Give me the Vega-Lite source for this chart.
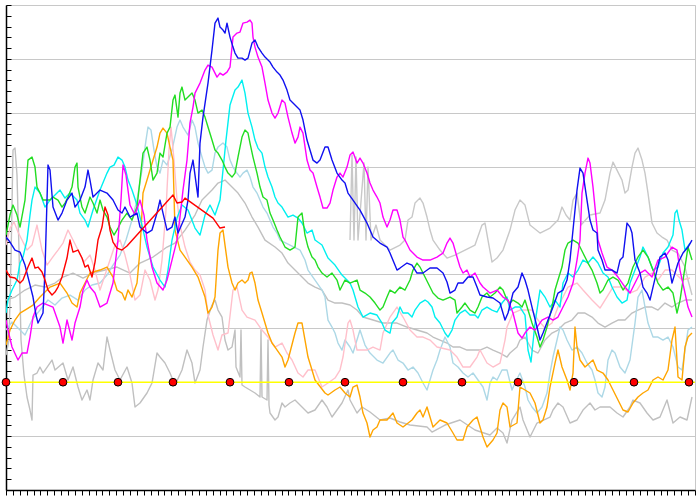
{
"$schema": "https://vega.github.io/schema/vega-lite/v6.json",
"width": 689, "height": 485,
"autosize": {"type": "none"},
"padding": {"left": 6, "top": 5, "right": 5, "bottom": 10},
"background": "white",
"config": {"view": {"stroke": "#c8c8c8", "strokeWidth": 1}},
"datasets": {
"lines": [
{"s":"01 grey","x":0,"y":190},{"s":"01 grey","x":9,"y":193},{"s":"01 grey","x":19,"y":200},{"s":"01 grey","x":29,"y":205},{"s":"01 grey","x":39,"y":203},{"s":"01 grey","x":49,"y":207},{"s":"01 grey","x":57,"y":213},{"s":"01 grey","x":67,"y":217},{"s":"01 grey","x":77,"y":212},{"s":"01 grey","x":87,"y":217},{"s":"01 grey","x":99,"y":220},{"s":"01 grey","x":111,"y":223},{"s":"01 grey","x":124,"y":217},{"s":"01 grey","x":134,"y":227},{"s":"01 grey","x":147,"y":233},{"s":"01 grey","x":161,"y":243},{"s":"01 grey","x":169,"y":247},{"s":"01 grey","x":179,"y":260},{"s":"01 grey","x":189,"y":275},{"s":"01 grey","x":196,"y":290},{"s":"01 grey","x":199,"y":293},{"s":"01 grey","x":206,"y":300},{"s":"01 grey","x":212,"y":307},{"s":"01 grey","x":219,"y":310},{"s":"01 grey","x":226,"y":303},{"s":"01 grey","x":232,"y":297},{"s":"01 grey","x":239,"y":287},{"s":"01 grey","x":246,"y":273},{"s":"01 grey","x":252,"y":263},{"s":"01 grey","x":259,"y":250},{"s":"01 grey","x":269,"y":243},{"s":"01 grey","x":276,"y":237},{"s":"01 grey","x":282,"y":227},{"s":"01 grey","x":289,"y":220},{"s":"01 grey","x":296,"y":213},{"s":"01 grey","x":302,"y":207},{"s":"01 grey","x":309,"y":203},{"s":"01 grey","x":316,"y":200},{"s":"01 grey","x":322,"y":190},{"s":"01 grey","x":329,"y":187},{"s":"01 grey","x":336,"y":187},{"s":"01 grey","x":344,"y":185},{"s":"01 grey","x":351,"y":180},{"s":"01 grey","x":357,"y":173},{"s":"01 grey","x":377,"y":167},{"s":"01 grey","x":391,"y":167},{"s":"01 grey","x":401,"y":163},{"s":"01 grey","x":411,"y":160},{"s":"01 grey","x":421,"y":157},{"s":"01 grey","x":427,"y":153},{"s":"01 grey","x":434,"y":150},{"s":"01 grey","x":441,"y":147},{"s":"01 grey","x":447,"y":143},{"s":"01 grey","x":454,"y":143},{"s":"01 grey","x":461,"y":140},{"s":"01 grey","x":467,"y":140},{"s":"01 grey","x":474,"y":140},{"s":"01 grey","x":481,"y":143},{"s":"01 grey","x":487,"y":140},{"s":"01 grey","x":494,"y":137},{"s":"01 grey","x":501,"y":133},{"s":"01 grey","x":504,"y":137},{"s":"01 grey","x":511,"y":143},{"s":"01 grey","x":514,"y":150},{"s":"01 grey","x":519,"y":153},{"s":"01 grey","x":526,"y":140},{"s":"01 grey","x":532,"y":137},{"s":"01 grey","x":539,"y":150},{"s":"01 grey","x":546,"y":157},{"s":"01 grey","x":552,"y":160},{"s":"01 grey","x":559,"y":167},{"s":"01 grey","x":566,"y":170},{"s":"01 grey","x":572,"y":177},{"s":"01 grey","x":579,"y":177},{"s":"01 grey","x":586,"y":173},{"s":"01 grey","x":592,"y":167},{"s":"01 grey","x":599,"y":163},{"s":"01 grey","x":606,"y":167},{"s":"01 grey","x":612,"y":170},{"s":"01 grey","x":619,"y":170},{"s":"01 grey","x":626,"y":177},{"s":"01 grey","x":632,"y":180},{"s":"01 grey","x":639,"y":183},{"s":"01 grey","x":646,"y":183},{"s":"01 grey","x":652,"y":180},{"s":"01 grey","x":659,"y":187},{"s":"01 grey","x":666,"y":183},{"s":"01 grey","x":672,"y":187},{"s":"01 grey","x":679,"y":190},{"s":"01 grey","x":686,"y":190},
{"s":"02 grey","x":0,"y":135},{"s":"02 grey","x":3,"y":150},{"s":"02 grey","x":5,"y":230},{"s":"02 grey","x":7,"y":340},{"s":"02 grey","x":9,"y":342},{"s":"02 grey","x":11,"y":315},{"s":"02 grey","x":13,"y":240},{"s":"02 grey","x":15,"y":150},{"s":"02 grey","x":18,"y":115},{"s":"02 grey","x":21,"y":93},{"s":"02 grey","x":24,"y":80},{"s":"02 grey","x":26,"y":70},{"s":"02 grey","x":27,"y":115},{"s":"02 grey","x":31,"y":117},{"s":"02 grey","x":34,"y":123},{"s":"02 grey","x":37,"y":117},{"s":"02 grey","x":46,"y":130},{"s":"02 grey","x":49,"y":120},{"s":"02 grey","x":57,"y":127},{"s":"02 grey","x":62,"y":110},{"s":"02 grey","x":67,"y":123},{"s":"02 grey","x":72,"y":103},{"s":"02 grey","x":76,"y":90},{"s":"02 grey","x":81,"y":100},{"s":"02 grey","x":84,"y":90},{"s":"02 grey","x":87,"y":110},{"s":"02 grey","x":92,"y":127},{"s":"02 grey","x":97,"y":120},{"s":"02 grey","x":101,"y":153},{"s":"02 grey","x":104,"y":140},{"s":"02 grey","x":109,"y":120},{"s":"02 grey","x":114,"y":110},{"s":"02 grey","x":121,"y":123},{"s":"02 grey","x":126,"y":107},{"s":"02 grey","x":129,"y":83},{"s":"02 grey","x":134,"y":87},{"s":"02 grey","x":141,"y":97},{"s":"02 grey","x":146,"y":107},{"s":"02 grey","x":151,"y":137},{"s":"02 grey","x":154,"y":133},{"s":"02 grey","x":159,"y":127},{"s":"02 grey","x":164,"y":117},{"s":"02 grey","x":169,"y":105},{"s":"02 grey","x":176,"y":120},{"s":"02 grey","x":181,"y":140},{"s":"02 grey","x":186,"y":127},{"s":"02 grey","x":189,"y":107},{"s":"02 grey","x":194,"y":120},{"s":"02 grey","x":197,"y":143},{"s":"02 grey","x":201,"y":170},{"s":"02 grey","x":206,"y":185},{"s":"02 grey","x":209,"y":190},{"s":"02 grey","x":212,"y":180},{"s":"02 grey","x":216,"y":173},{"s":"02 grey","x":219,"y":150},{"s":"02 grey","x":222,"y":140},{"s":"02 grey","x":226,"y":143},{"s":"02 grey","x":229,"y":160},{"s":"02 grey","x":230,"y":123},{"s":"02 grey","x":234,"y":113},{"s":"02 grey","x":235,"y":160},{"s":"02 grey","x":236,"y":105},{"s":"02 grey","x":239,"y":103},{"s":"02 grey","x":244,"y":100},{"s":"02 grey","x":249,"y":97},{"s":"02 grey","x":254,"y":93},{"s":"02 grey","x":255,"y":160},{"s":"02 grey","x":256,"y":93},{"s":"02 grey","x":261,"y":90},{"s":"02 grey","x":262,"y":150},{"s":"02 grey","x":263,"y":85},{"s":"02 grey","x":264,"y":77},{"s":"02 grey","x":269,"y":70},{"s":"02 grey","x":272,"y":73},{"s":"02 grey","x":276,"y":87},{"s":"02 grey","x":279,"y":83},{"s":"02 grey","x":284,"y":87},{"s":"02 grey","x":289,"y":90},{"s":"02 grey","x":296,"y":83},{"s":"02 grey","x":302,"y":77},{"s":"02 grey","x":309,"y":80},{"s":"02 grey","x":316,"y":90},{"s":"02 grey","x":321,"y":83},{"s":"02 grey","x":326,"y":73},{"s":"02 grey","x":331,"y":80},{"s":"02 grey","x":336,"y":87},{"s":"02 grey","x":342,"y":100},{"s":"02 grey","x":344,"y":90},{"s":"02 grey","x":351,"y":77},{"s":"02 grey","x":356,"y":83},{"s":"02 grey","x":364,"y":78},{"s":"02 grey","x":374,"y":70},{"s":"02 grey","x":384,"y":72},{"s":"02 grey","x":394,"y":68},{"s":"02 grey","x":404,"y":65},{"s":"02 grey","x":421,"y":63},{"s":"02 grey","x":426,"y":58},{"s":"02 grey","x":439,"y":65},{"s":"02 grey","x":454,"y":70},{"s":"02 grey","x":469,"y":60},{"s":"02 grey","x":484,"y":55},{"s":"02 grey","x":491,"y":62},{"s":"02 grey","x":497,"y":57},{"s":"02 grey","x":501,"y":47},{"s":"02 grey","x":506,"y":70},{"s":"02 grey","x":514,"y":83},{"s":"02 grey","x":517,"y":70},{"s":"02 grey","x":524,"y":53},{"s":"02 grey","x":531,"y":67},{"s":"02 grey","x":544,"y":73},{"s":"02 grey","x":547,"y":80},{"s":"02 grey","x":552,"y":87},{"s":"02 grey","x":557,"y":83},{"s":"02 grey","x":564,"y":67},{"s":"02 grey","x":571,"y":70},{"s":"02 grey","x":577,"y":80},{"s":"02 grey","x":584,"y":87},{"s":"02 grey","x":589,"y":80},{"s":"02 grey","x":594,"y":83},{"s":"02 grey","x":604,"y":83},{"s":"02 grey","x":611,"y":77},{"s":"02 grey","x":617,"y":73},{"s":"02 grey","x":624,"y":83},{"s":"02 grey","x":627,"y":90},{"s":"02 grey","x":634,"y":87},{"s":"02 grey","x":641,"y":77},{"s":"02 grey","x":647,"y":70},{"s":"02 grey","x":654,"y":73},{"s":"02 grey","x":661,"y":90},{"s":"02 grey","x":667,"y":67},{"s":"02 grey","x":674,"y":73},{"s":"02 grey","x":681,"y":70},{"s":"02 grey","x":686,"y":93},
{"s":"03 grey","x":344,"y":250},{"s":"03 grey","x":346,"y":335},{"s":"03 grey","x":348,"y":250},{"s":"03 grey","x":350,"y":333},{"s":"03 grey","x":352,"y":250},{"s":"03 grey","x":358,"y":327},{"s":"03 grey","x":360,"y":250},{"s":"03 grey","x":362,"y":323},{"s":"03 grey","x":365,"y":250},{"s":"03 grey","x":370,"y":265},{"s":"03 grey","x":374,"y":250},{"s":"03 grey","x":384,"y":240},{"s":"03 grey","x":394,"y":245},{"s":"03 grey","x":399,"y":250},{"s":"03 grey","x":402,"y":270},{"s":"03 grey","x":406,"y":273},{"s":"03 grey","x":409,"y":287},{"s":"03 grey","x":414,"y":292},{"s":"03 grey","x":417,"y":287},{"s":"03 grey","x":421,"y":273},{"s":"03 grey","x":424,"y":260},{"s":"03 grey","x":427,"y":250},{"s":"03 grey","x":434,"y":240},{"s":"03 grey","x":441,"y":232},{"s":"03 grey","x":449,"y":235},{"s":"03 grey","x":459,"y":240},{"s":"03 grey","x":469,"y":245},{"s":"03 grey","x":476,"y":265},{"s":"03 grey","x":479,"y":267},{"s":"03 grey","x":482,"y":250},{"s":"03 grey","x":486,"y":228},{"s":"03 grey","x":491,"y":232},{"s":"03 grey","x":497,"y":240},{"s":"03 grey","x":504,"y":260},{"s":"03 grey","x":509,"y":280},{"s":"03 grey","x":514,"y":290},{"s":"03 grey","x":519,"y":285},{"s":"03 grey","x":524,"y":265},{"s":"03 grey","x":534,"y":257},{"s":"03 grey","x":544,"y":262},{"s":"03 grey","x":552,"y":270},{"s":"03 grey","x":556,"y":283},{"s":"03 grey","x":560,"y":275},{"s":"03 grey","x":564,"y":270},{"s":"03 grey","x":567,"y":290},{"s":"03 grey","x":571,"y":297},{"s":"03 grey","x":575,"y":265},{"s":"03 grey","x":584,"y":275},{"s":"03 grey","x":594,"y":277},{"s":"03 grey","x":599,"y":290},{"s":"03 grey","x":604,"y":317},{"s":"03 grey","x":607,"y":328},{"s":"03 grey","x":611,"y":320},{"s":"03 grey","x":616,"y":310},{"s":"03 grey","x":619,"y":297},{"s":"03 grey","x":622,"y":300},{"s":"03 grey","x":626,"y":323},{"s":"03 grey","x":629,"y":337},{"s":"03 grey","x":632,"y":342},{"s":"03 grey","x":636,"y":330},{"s":"03 grey","x":639,"y":317},{"s":"03 grey","x":642,"y":297},{"s":"03 grey","x":646,"y":267},{"s":"03 grey","x":651,"y":257},{"s":"03 grey","x":656,"y":253},{"s":"03 grey","x":661,"y":250},{"s":"03 grey","x":666,"y":240},{"s":"03 grey","x":672,"y":237},{"s":"03 grey","x":679,"y":223},{"s":"03 grey","x":682,"y":210},{"s":"03 grey","x":686,"y":195},
{"s":"04 lightblue","x":0,"y":160},{"s":"04 lightblue","x":6,"y":168},{"s":"04 lightblue","x":12,"y":162},{"s":"04 lightblue","x":19,"y":155},{"s":"04 lightblue","x":26,"y":170},{"s":"04 lightblue","x":34,"y":180},{"s":"04 lightblue","x":42,"y":190},{"s":"04 lightblue","x":49,"y":185},{"s":"04 lightblue","x":56,"y":192},{"s":"04 lightblue","x":64,"y":195},{"s":"04 lightblue","x":72,"y":190},{"s":"04 lightblue","x":79,"y":200},{"s":"04 lightblue","x":86,"y":205},{"s":"04 lightblue","x":94,"y":207},{"s":"04 lightblue","x":101,"y":215},{"s":"04 lightblue","x":107,"y":225},{"s":"04 lightblue","x":114,"y":235},{"s":"04 lightblue","x":120,"y":250},{"s":"04 lightblue","x":126,"y":270},{"s":"04 lightblue","x":131,"y":290},{"s":"04 lightblue","x":136,"y":320},{"s":"04 lightblue","x":140,"y":350},{"s":"04 lightblue","x":142,"y":363},{"s":"04 lightblue","x":145,"y":360},{"s":"04 lightblue","x":148,"y":340},{"s":"04 lightblue","x":151,"y":323},{"s":"04 lightblue","x":154,"y":317},{"s":"04 lightblue","x":157,"y":330},{"s":"04 lightblue","x":161,"y":325},{"s":"04 lightblue","x":166,"y":340},{"s":"04 lightblue","x":171,"y":363},{"s":"04 lightblue","x":174,"y":370},{"s":"04 lightblue","x":177,"y":363},{"s":"04 lightblue","x":182,"y":355},{"s":"04 lightblue","x":186,"y":370},{"s":"04 lightblue","x":189,"y":363},{"s":"04 lightblue","x":192,"y":347},{"s":"04 lightblue","x":196,"y":333},{"s":"04 lightblue","x":199,"y":323},{"s":"04 lightblue","x":202,"y":317},{"s":"04 lightblue","x":206,"y":320},{"s":"04 lightblue","x":209,"y":337},{"s":"04 lightblue","x":212,"y":343},{"s":"04 lightblue","x":217,"y":347},{"s":"04 lightblue","x":221,"y":343},{"s":"04 lightblue","x":224,"y":330},{"s":"04 lightblue","x":227,"y":323},{"s":"04 lightblue","x":231,"y":317},{"s":"04 lightblue","x":234,"y":313},{"s":"04 lightblue","x":237,"y":317},{"s":"04 lightblue","x":241,"y":320},{"s":"04 lightblue","x":244,"y":313},{"s":"04 lightblue","x":247,"y":303},{"s":"04 lightblue","x":251,"y":297},{"s":"04 lightblue","x":254,"y":290},{"s":"04 lightblue","x":257,"y":283},{"s":"04 lightblue","x":261,"y":277},{"s":"04 lightblue","x":264,"y":270},{"s":"04 lightblue","x":267,"y":263},{"s":"04 lightblue","x":271,"y":257},{"s":"04 lightblue","x":274,"y":250},{"s":"04 lightblue","x":284,"y":245},{"s":"04 lightblue","x":294,"y":240},{"s":"04 lightblue","x":299,"y":230},{"s":"04 lightblue","x":302,"y":220},{"s":"04 lightblue","x":309,"y":210},{"s":"04 lightblue","x":316,"y":200},{"s":"04 lightblue","x":319,"y":193},{"s":"04 lightblue","x":322,"y":170},{"s":"04 lightblue","x":326,"y":163},{"s":"04 lightblue","x":329,"y":157},{"s":"04 lightblue","x":332,"y":147},{"s":"04 lightblue","x":336,"y":140},{"s":"04 lightblue","x":339,"y":150},{"s":"04 lightblue","x":344,"y":143},{"s":"04 lightblue","x":347,"y":137},{"s":"04 lightblue","x":354,"y":160},{"s":"04 lightblue","x":359,"y":145},{"s":"04 lightblue","x":364,"y":137},{"s":"04 lightblue","x":371,"y":130},{"s":"04 lightblue","x":377,"y":127},{"s":"04 lightblue","x":384,"y":137},{"s":"04 lightblue","x":387,"y":140},{"s":"04 lightblue","x":392,"y":130},{"s":"04 lightblue","x":397,"y":127},{"s":"04 lightblue","x":402,"y":120},{"s":"04 lightblue","x":407,"y":123},{"s":"04 lightblue","x":412,"y":117},{"s":"04 lightblue","x":417,"y":107},{"s":"04 lightblue","x":421,"y":100},{"s":"04 lightblue","x":424,"y":110},{"s":"04 lightblue","x":427,"y":120},{"s":"04 lightblue","x":431,"y":130},{"s":"04 lightblue","x":434,"y":140},{"s":"04 lightblue","x":439,"y":153},{"s":"04 lightblue","x":444,"y":143},{"s":"04 lightblue","x":447,"y":127},{"s":"04 lightblue","x":452,"y":123},{"s":"04 lightblue","x":457,"y":117},{"s":"04 lightblue","x":462,"y":113},{"s":"04 lightblue","x":467,"y":117},{"s":"04 lightblue","x":472,"y":110},{"s":"04 lightblue","x":477,"y":103},{"s":"04 lightblue","x":481,"y":90},{"s":"04 lightblue","x":484,"y":107},{"s":"04 lightblue","x":487,"y":113},{"s":"04 lightblue","x":491,"y":110},{"s":"04 lightblue","x":496,"y":120},{"s":"04 lightblue","x":501,"y":120},{"s":"04 lightblue","x":506,"y":100},{"s":"04 lightblue","x":509,"y":107},{"s":"04 lightblue","x":514,"y":117},{"s":"04 lightblue","x":519,"y":103},{"s":"04 lightblue","x":522,"y":90},{"s":"04 lightblue","x":526,"y":83},{"s":"04 lightblue","x":531,"y":77},{"s":"04 lightblue","x":536,"y":83},{"s":"04 lightblue","x":541,"y":97},{"s":"04 lightblue","x":544,"y":117},{"s":"04 lightblue","x":547,"y":133},{"s":"04 lightblue","x":551,"y":150},{"s":"04 lightblue","x":554,"y":163},{"s":"04 lightblue","x":557,"y":160},{"s":"04 lightblue","x":561,"y":150},{"s":"04 lightblue","x":566,"y":140},{"s":"04 lightblue","x":571,"y":143},{"s":"04 lightblue","x":576,"y":137},{"s":"04 lightblue","x":581,"y":127},{"s":"04 lightblue","x":586,"y":120},{"s":"04 lightblue","x":589,"y":110},{"s":"04 lightblue","x":592,"y":97},{"s":"04 lightblue","x":596,"y":93},{"s":"04 lightblue","x":599,"y":103},{"s":"04 lightblue","x":602,"y":130},{"s":"04 lightblue","x":606,"y":140},{"s":"04 lightblue","x":609,"y":137},{"s":"04 lightblue","x":614,"y":123},{"s":"04 lightblue","x":619,"y":117},{"s":"04 lightblue","x":624,"y":130},{"s":"04 lightblue","x":629,"y":167},{"s":"04 lightblue","x":632,"y":193},{"s":"04 lightblue","x":636,"y":200},{"s":"04 lightblue","x":639,"y":183},{"s":"04 lightblue","x":642,"y":167},{"s":"04 lightblue","x":647,"y":153},{"s":"04 lightblue","x":652,"y":153},{"s":"04 lightblue","x":657,"y":150},{"s":"04 lightblue","x":662,"y":153},{"s":"04 lightblue","x":667,"y":143},{"s":"04 lightblue","x":672,"y":123},{"s":"04 lightblue","x":676,"y":120},{"s":"04 lightblue","x":679,"y":140},{"s":"04 lightblue","x":682,"y":160},{"s":"04 lightblue","x":686,"y":163},
{"s":"05 pink","x":0,"y":245},{"s":"05 pink","x":4,"y":262},{"s":"05 pink","x":8,"y":268},{"s":"05 pink","x":12,"y":258},{"s":"05 pink","x":16,"y":250},{"s":"05 pink","x":21,"y":240},{"s":"05 pink","x":26,"y":245},{"s":"05 pink","x":31,"y":265},{"s":"05 pink","x":36,"y":240},{"s":"05 pink","x":41,"y":225},{"s":"05 pink","x":46,"y":232},{"s":"05 pink","x":52,"y":240},{"s":"05 pink","x":57,"y":247},{"s":"05 pink","x":62,"y":260},{"s":"05 pink","x":67,"y":250},{"s":"05 pink","x":72,"y":240},{"s":"05 pink","x":78,"y":228},{"s":"05 pink","x":84,"y":235},{"s":"05 pink","x":89,"y":220},{"s":"05 pink","x":94,"y":200},{"s":"05 pink","x":99,"y":215},{"s":"05 pink","x":104,"y":230},{"s":"05 pink","x":109,"y":245},{"s":"05 pink","x":114,"y":250},{"s":"05 pink","x":119,"y":235},{"s":"05 pink","x":124,"y":215},{"s":"05 pink","x":129,"y":190},{"s":"05 pink","x":134,"y":195},{"s":"05 pink","x":139,"y":220},{"s":"05 pink","x":144,"y":210},{"s":"05 pink","x":149,"y":190},{"s":"05 pink","x":152,"y":200},{"s":"05 pink","x":156,"y":230},{"s":"05 pink","x":160,"y":280},{"s":"05 pink","x":163,"y":340},{"s":"05 pink","x":165,"y":363},{"s":"05 pink","x":168,"y":330},{"s":"05 pink","x":171,"y":290},{"s":"05 pink","x":174,"y":265},{"s":"05 pink","x":179,"y":243},{"s":"05 pink","x":184,"y":228},{"s":"05 pink","x":189,"y":220},{"s":"05 pink","x":194,"y":215},{"s":"05 pink","x":199,"y":200},{"s":"05 pink","x":202,"y":175},{"s":"05 pink","x":207,"y":155},{"s":"05 pink","x":212,"y":140},{"s":"05 pink","x":216,"y":155},{"s":"05 pink","x":222,"y":157},{"s":"05 pink","x":227,"y":200},{"s":"05 pink","x":231,"y":203},{"s":"05 pink","x":236,"y":180},{"s":"05 pink","x":241,"y":173},{"s":"05 pink","x":249,"y":170},{"s":"05 pink","x":256,"y":160},{"s":"05 pink","x":262,"y":153},{"s":"05 pink","x":269,"y":143},{"s":"05 pink","x":276,"y":147},{"s":"05 pink","x":281,"y":137},{"s":"05 pink","x":286,"y":130},{"s":"05 pink","x":292,"y":117},{"s":"05 pink","x":297,"y":113},{"s":"05 pink","x":302,"y":120},{"s":"05 pink","x":309,"y":120},{"s":"05 pink","x":316,"y":103},{"s":"05 pink","x":322,"y":107},{"s":"05 pink","x":329,"y":112},{"s":"05 pink","x":334,"y":120},{"s":"05 pink","x":337,"y":133},{"s":"05 pink","x":342,"y":167},{"s":"05 pink","x":344,"y":170},{"s":"05 pink","x":347,"y":160},{"s":"05 pink","x":351,"y":140},{"s":"05 pink","x":361,"y":140},{"s":"05 pink","x":367,"y":143},{"s":"05 pink","x":374,"y":140},{"s":"05 pink","x":377,"y":157},{"s":"05 pink","x":384,"y":173},{"s":"05 pink","x":391,"y":183},{"s":"05 pink","x":397,"y":173},{"s":"05 pink","x":404,"y":160},{"s":"05 pink","x":411,"y":153},{"s":"05 pink","x":417,"y":153},{"s":"05 pink","x":424,"y":150},{"s":"05 pink","x":431,"y":143},{"s":"05 pink","x":444,"y":140},{"s":"05 pink","x":451,"y":133},{"s":"05 pink","x":457,"y":123},{"s":"05 pink","x":464,"y":123},{"s":"05 pink","x":471,"y":133},{"s":"05 pink","x":474,"y":140},{"s":"05 pink","x":481,"y":127},{"s":"05 pink","x":487,"y":123},{"s":"05 pink","x":494,"y":127},{"s":"05 pink","x":499,"y":150},{"s":"05 pink","x":501,"y":163},{"s":"05 pink","x":507,"y":177},{"s":"05 pink","x":514,"y":180},{"s":"05 pink","x":519,"y":180},{"s":"05 pink","x":526,"y":180},{"s":"05 pink","x":532,"y":170},{"s":"05 pink","x":539,"y":162},{"s":"05 pink","x":546,"y":167},{"s":"05 pink","x":552,"y":183},{"s":"05 pink","x":562,"y":203},{"s":"05 pink","x":571,"y":207},{"s":"05 pink","x":577,"y":200},{"s":"05 pink","x":586,"y":190},{"s":"05 pink","x":594,"y":182},{"s":"05 pink","x":599,"y":190},{"s":"05 pink","x":607,"y":203},{"s":"05 pink","x":616,"y":203},{"s":"05 pink","x":624,"y":197},{"s":"05 pink","x":631,"y":200},{"s":"05 pink","x":639,"y":213},{"s":"05 pink","x":646,"y":217},{"s":"05 pink","x":652,"y":210},{"s":"05 pink","x":659,"y":220},{"s":"05 pink","x":666,"y":220},{"s":"05 pink","x":676,"y":210},{"s":"05 pink","x":684,"y":212},
{"s":"06 orange","x":0,"y":145},{"s":"06 orange","x":4,"y":160},{"s":"06 orange","x":9,"y":170},{"s":"06 orange","x":14,"y":177},{"s":"06 orange","x":19,"y":180},{"s":"06 orange","x":27,"y":185},{"s":"06 orange","x":34,"y":193},{"s":"06 orange","x":44,"y":203},{"s":"06 orange","x":54,"y":207},{"s":"06 orange","x":61,"y":197},{"s":"06 orange","x":66,"y":187},{"s":"06 orange","x":71,"y":183},{"s":"06 orange","x":74,"y":197},{"s":"06 orange","x":79,"y":207},{"s":"06 orange","x":84,"y":217},{"s":"06 orange","x":94,"y":220},{"s":"06 orange","x":101,"y":223},{"s":"06 orange","x":107,"y":213},{"s":"06 orange","x":111,"y":200},{"s":"06 orange","x":116,"y":197},{"s":"06 orange","x":119,"y":190},{"s":"06 orange","x":122,"y":200},{"s":"06 orange","x":126,"y":193},{"s":"06 orange","x":131,"y":207},{"s":"06 orange","x":134,"y":240},{"s":"06 orange","x":137,"y":297},{"s":"06 orange","x":141,"y":310},{"s":"06 orange","x":144,"y":320},{"s":"06 orange","x":151,"y":343},{"s":"06 orange","x":154,"y":357},{"s":"06 orange","x":157,"y":362},{"s":"06 orange","x":161,"y":357},{"s":"06 orange","x":164,"y":343},{"s":"06 orange","x":167,"y":330},{"s":"06 orange","x":169,"y":260},{"s":"06 orange","x":174,"y":240},{"s":"06 orange","x":179,"y":233},{"s":"06 orange","x":186,"y":223},{"s":"06 orange","x":192,"y":213},{"s":"06 orange","x":199,"y":193},{"s":"06 orange","x":202,"y":177},{"s":"06 orange","x":206,"y":183},{"s":"06 orange","x":209,"y":193},{"s":"06 orange","x":212,"y":240},{"s":"06 orange","x":214,"y":257},{"s":"06 orange","x":217,"y":260},{"s":"06 orange","x":219,"y":245},{"s":"06 orange","x":222,"y":223},{"s":"06 orange","x":226,"y":207},{"s":"06 orange","x":229,"y":200},{"s":"06 orange","x":232,"y":207},{"s":"06 orange","x":236,"y":210},{"s":"06 orange","x":239,"y":207},{"s":"06 orange","x":242,"y":210},{"s":"06 orange","x":244,"y":217},{"s":"06 orange","x":246,"y":218},{"s":"06 orange","x":249,"y":207},{"s":"06 orange","x":252,"y":190},{"s":"06 orange","x":256,"y":177},{"s":"06 orange","x":259,"y":167},{"s":"06 orange","x":262,"y":157},{"s":"06 orange","x":266,"y":147},{"s":"06 orange","x":269,"y":143},{"s":"06 orange","x":276,"y":133},{"s":"06 orange","x":279,"y":123},{"s":"06 orange","x":282,"y":130},{"s":"06 orange","x":289,"y":157},{"s":"06 orange","x":292,"y":167},{"s":"06 orange","x":296,"y":167},{"s":"06 orange","x":299,"y":150},{"s":"06 orange","x":302,"y":133},{"s":"06 orange","x":306,"y":120},{"s":"06 orange","x":309,"y":110},{"s":"06 orange","x":319,"y":97},{"s":"06 orange","x":322,"y":95},{"s":"06 orange","x":329,"y":100},{"s":"06 orange","x":334,"y":103},{"s":"06 orange","x":339,"y":97},{"s":"06 orange","x":344,"y":93},{"s":"06 orange","x":347,"y":103},{"s":"06 orange","x":351,"y":105},{"s":"06 orange","x":354,"y":93},{"s":"06 orange","x":357,"y":77},{"s":"06 orange","x":361,"y":67},{"s":"06 orange","x":364,"y":53},{"s":"06 orange","x":367,"y":60},{"s":"06 orange","x":371,"y":63},{"s":"06 orange","x":374,"y":70},{"s":"06 orange","x":381,"y":70},{"s":"06 orange","x":387,"y":77},{"s":"06 orange","x":391,"y":67},{"s":"06 orange","x":397,"y":63},{"s":"06 orange","x":406,"y":70},{"s":"06 orange","x":411,"y":77},{"s":"06 orange","x":414,"y":80},{"s":"06 orange","x":417,"y":73},{"s":"06 orange","x":421,"y":83},{"s":"06 orange","x":424,"y":73},{"s":"06 orange","x":427,"y":63},{"s":"06 orange","x":434,"y":70},{"s":"06 orange","x":441,"y":67},{"s":"06 orange","x":447,"y":57},{"s":"06 orange","x":451,"y":50},{"s":"06 orange","x":457,"y":50},{"s":"06 orange","x":461,"y":63},{"s":"06 orange","x":467,"y":70},{"s":"06 orange","x":471,"y":73},{"s":"06 orange","x":474,"y":63},{"s":"06 orange","x":477,"y":53},{"s":"06 orange","x":481,"y":43},{"s":"06 orange","x":487,"y":50},{"s":"06 orange","x":491,"y":57},{"s":"06 orange","x":494,"y":80},{"s":"06 orange","x":497,"y":87},{"s":"06 orange","x":501,"y":83},{"s":"06 orange","x":504,"y":63},{"s":"06 orange","x":511,"y":67},{"s":"06 orange","x":514,"y":103},{"s":"06 orange","x":519,"y":100},{"s":"06 orange","x":524,"y":97},{"s":"06 orange","x":529,"y":87},{"s":"06 orange","x":534,"y":67},{"s":"06 orange","x":537,"y":70},{"s":"06 orange","x":541,"y":83},{"s":"06 orange","x":544,"y":103},{"s":"06 orange","x":549,"y":127},{"s":"06 orange","x":552,"y":140},{"s":"06 orange","x":556,"y":123},{"s":"06 orange","x":561,"y":110},{"s":"06 orange","x":564,"y":100},{"s":"06 orange","x":567,"y":117},{"s":"06 orange","x":569,"y":163},{"s":"06 orange","x":571,"y":143},{"s":"06 orange","x":574,"y":130},{"s":"06 orange","x":579,"y":123},{"s":"06 orange","x":587,"y":130},{"s":"06 orange","x":591,"y":120},{"s":"06 orange","x":597,"y":117},{"s":"06 orange","x":602,"y":110},{"s":"06 orange","x":607,"y":100},{"s":"06 orange","x":612,"y":90},{"s":"06 orange","x":617,"y":80},{"s":"06 orange","x":622,"y":78},{"s":"06 orange","x":627,"y":87},{"s":"06 orange","x":632,"y":93},{"s":"06 orange","x":637,"y":97},{"s":"06 orange","x":642,"y":100},{"s":"06 orange","x":647,"y":110},{"s":"06 orange","x":652,"y":113},{"s":"06 orange","x":657,"y":110},{"s":"06 orange","x":662,"y":120},{"s":"06 orange","x":666,"y":150},{"s":"06 orange","x":669,"y":163},{"s":"06 orange","x":672,"y":113},{"s":"06 orange","x":676,"y":110},{"s":"06 orange","x":679,"y":143},{"s":"06 orange","x":682,"y":153},{"s":"06 orange","x":686,"y":157},
{"s":"07 cyan","x":0,"y":177},{"s":"07 cyan","x":2,"y":190},{"s":"07 cyan","x":6,"y":200},{"s":"07 cyan","x":11,"y":210},{"s":"07 cyan","x":14,"y":227},{"s":"07 cyan","x":17,"y":233},{"s":"07 cyan","x":21,"y":250},{"s":"07 cyan","x":24,"y":275},{"s":"07 cyan","x":26,"y":290},{"s":"07 cyan","x":29,"y":303},{"s":"07 cyan","x":34,"y":297},{"s":"07 cyan","x":39,"y":283},{"s":"07 cyan","x":44,"y":290},{"s":"07 cyan","x":49,"y":295},{"s":"07 cyan","x":54,"y":300},{"s":"07 cyan","x":59,"y":292},{"s":"07 cyan","x":64,"y":297},{"s":"07 cyan","x":71,"y":290},{"s":"07 cyan","x":74,"y":277},{"s":"07 cyan","x":79,"y":270},{"s":"07 cyan","x":82,"y":263},{"s":"07 cyan","x":87,"y":280},{"s":"07 cyan","x":94,"y":300},{"s":"07 cyan","x":101,"y":317},{"s":"07 cyan","x":104,"y":323},{"s":"07 cyan","x":108,"y":325},{"s":"07 cyan","x":112,"y":333},{"s":"07 cyan","x":116,"y":330},{"s":"07 cyan","x":119,"y":323},{"s":"07 cyan","x":122,"y":310},{"s":"07 cyan","x":126,"y":300},{"s":"07 cyan","x":131,"y":285},{"s":"07 cyan","x":136,"y":265},{"s":"07 cyan","x":141,"y":243},{"s":"07 cyan","x":147,"y":223},{"s":"07 cyan","x":154,"y":210},{"s":"07 cyan","x":159,"y":203},{"s":"07 cyan","x":162,"y":220},{"s":"07 cyan","x":166,"y":250},{"s":"07 cyan","x":171,"y":272},{"s":"07 cyan","x":176,"y":285},{"s":"07 cyan","x":182,"y":280},{"s":"07 cyan","x":189,"y":262},{"s":"07 cyan","x":194,"y":255},{"s":"07 cyan","x":199,"y":275},{"s":"07 cyan","x":204,"y":285},{"s":"07 cyan","x":209,"y":275},{"s":"07 cyan","x":214,"y":290},{"s":"07 cyan","x":217,"y":320},{"s":"07 cyan","x":220,"y":350},{"s":"07 cyan","x":224,"y":385},{"s":"07 cyan","x":229,"y":400},{"s":"07 cyan","x":232,"y":403},{"s":"07 cyan","x":236,"y":410},{"s":"07 cyan","x":239,"y":397},{"s":"07 cyan","x":242,"y":377},{"s":"07 cyan","x":246,"y":363},{"s":"07 cyan","x":249,"y":350},{"s":"07 cyan","x":252,"y":342},{"s":"07 cyan","x":256,"y":337},{"s":"07 cyan","x":259,"y":323},{"s":"07 cyan","x":262,"y":313},{"s":"07 cyan","x":266,"y":303},{"s":"07 cyan","x":269,"y":293},{"s":"07 cyan","x":272,"y":287},{"s":"07 cyan","x":276,"y":283},{"s":"07 cyan","x":279,"y":278},{"s":"07 cyan","x":282,"y":273},{"s":"07 cyan","x":287,"y":275},{"s":"07 cyan","x":292,"y":272},{"s":"07 cyan","x":296,"y":267},{"s":"07 cyan","x":301,"y":257},{"s":"07 cyan","x":306,"y":260},{"s":"07 cyan","x":309,"y":250},{"s":"07 cyan","x":316,"y":245},{"s":"07 cyan","x":322,"y":232},{"s":"07 cyan","x":329,"y":225},{"s":"07 cyan","x":336,"y":215},{"s":"07 cyan","x":344,"y":207},{"s":"07 cyan","x":347,"y":200},{"s":"07 cyan","x":352,"y":183},{"s":"07 cyan","x":357,"y":173},{"s":"07 cyan","x":364,"y":177},{"s":"07 cyan","x":371,"y":175},{"s":"07 cyan","x":376,"y":167},{"s":"07 cyan","x":379,"y":160},{"s":"07 cyan","x":384,"y":157},{"s":"07 cyan","x":386,"y":167},{"s":"07 cyan","x":391,"y":173},{"s":"07 cyan","x":394,"y":183},{"s":"07 cyan","x":397,"y":177},{"s":"07 cyan","x":402,"y":177},{"s":"07 cyan","x":406,"y":173},{"s":"07 cyan","x":409,"y":180},{"s":"07 cyan","x":414,"y":187},{"s":"07 cyan","x":419,"y":190},{"s":"07 cyan","x":422,"y":188},{"s":"07 cyan","x":426,"y":183},{"s":"07 cyan","x":429,"y":173},{"s":"07 cyan","x":434,"y":167},{"s":"07 cyan","x":439,"y":157},{"s":"07 cyan","x":442,"y":153},{"s":"07 cyan","x":446,"y":160},{"s":"07 cyan","x":449,"y":170},{"s":"07 cyan","x":454,"y":177},{"s":"07 cyan","x":459,"y":180},{"s":"07 cyan","x":464,"y":175},{"s":"07 cyan","x":469,"y":175},{"s":"07 cyan","x":472,"y":172},{"s":"07 cyan","x":476,"y":180},{"s":"07 cyan","x":481,"y":183},{"s":"07 cyan","x":486,"y":180},{"s":"07 cyan","x":491,"y":178},{"s":"07 cyan","x":496,"y":187},{"s":"07 cyan","x":501,"y":193},{"s":"07 cyan","x":504,"y":180},{"s":"07 cyan","x":509,"y":183},{"s":"07 cyan","x":514,"y":183},{"s":"07 cyan","x":519,"y":175},{"s":"07 cyan","x":522,"y":140},{"s":"07 cyan","x":525,"y":128},{"s":"07 cyan","x":529,"y":167},{"s":"07 cyan","x":534,"y":200},{"s":"07 cyan","x":539,"y":193},{"s":"07 cyan","x":544,"y":183},{"s":"07 cyan","x":549,"y":190},{"s":"07 cyan","x":554,"y":183},{"s":"07 cyan","x":557,"y":207},{"s":"07 cyan","x":562,"y":217},{"s":"07 cyan","x":567,"y":213},{"s":"07 cyan","x":572,"y":220},{"s":"07 cyan","x":577,"y":230},{"s":"07 cyan","x":582,"y":227},{"s":"07 cyan","x":587,"y":233},{"s":"07 cyan","x":592,"y":227},{"s":"07 cyan","x":597,"y":217},{"s":"07 cyan","x":602,"y":213},{"s":"07 cyan","x":606,"y":203},{"s":"07 cyan","x":611,"y":193},{"s":"07 cyan","x":616,"y":187},{"s":"07 cyan","x":621,"y":190},{"s":"07 cyan","x":624,"y":207},{"s":"07 cyan","x":629,"y":220},{"s":"07 cyan","x":634,"y":233},{"s":"07 cyan","x":637,"y":243},{"s":"07 cyan","x":642,"y":233},{"s":"07 cyan","x":647,"y":220},{"s":"07 cyan","x":652,"y":223},{"s":"07 cyan","x":657,"y":237},{"s":"07 cyan","x":662,"y":243},{"s":"07 cyan","x":667,"y":255},{"s":"07 cyan","x":669,"y":277},{"s":"07 cyan","x":671,"y":280},{"s":"07 cyan","x":673,"y":270},{"s":"07 cyan","x":676,"y":260},{"s":"07 cyan","x":679,"y":240},{"s":"07 cyan","x":684,"y":247},
{"s":"08 green","x":0,"y":255},{"s":"08 green","x":4,"y":275},{"s":"08 green","x":7,"y":285},{"s":"08 green","x":11,"y":275},{"s":"08 green","x":14,"y":263},{"s":"08 green","x":19,"y":290},{"s":"08 green","x":22,"y":330},{"s":"08 green","x":26,"y":333},{"s":"08 green","x":29,"y":323},{"s":"08 green","x":31,"y":303},{"s":"08 green","x":34,"y":297},{"s":"08 green","x":37,"y":290},{"s":"08 green","x":44,"y":290},{"s":"08 green","x":47,"y":293},{"s":"08 green","x":52,"y":290},{"s":"08 green","x":56,"y":283},{"s":"08 green","x":59,"y":287},{"s":"08 green","x":62,"y":293},{"s":"08 green","x":66,"y":303},{"s":"08 green","x":69,"y":323},{"s":"08 green","x":71,"y":327},{"s":"08 green","x":72,"y":303},{"s":"08 green","x":76,"y":283},{"s":"08 green","x":79,"y":277},{"s":"08 green","x":84,"y":293},{"s":"08 green","x":87,"y":287},{"s":"08 green","x":91,"y":277},{"s":"08 green","x":94,"y":290},{"s":"08 green","x":97,"y":280},{"s":"08 green","x":101,"y":273},{"s":"08 green","x":104,"y":263},{"s":"08 green","x":108,"y":255},{"s":"08 green","x":112,"y":262},{"s":"08 green","x":116,"y":270},{"s":"08 green","x":121,"y":277},{"s":"08 green","x":126,"y":270},{"s":"08 green","x":131,"y":283},{"s":"08 green","x":134,"y":310},{"s":"08 green","x":137,"y":337},{"s":"08 green","x":141,"y":343},{"s":"08 green","x":144,"y":330},{"s":"08 green","x":147,"y":310},{"s":"08 green","x":151,"y":317},{"s":"08 green","x":154,"y":337},{"s":"08 green","x":157,"y":333},{"s":"08 green","x":161,"y":357},{"s":"08 green","x":164,"y":363},{"s":"08 green","x":167,"y":390},{"s":"08 green","x":169,"y":395},{"s":"08 green","x":172,"y":373},{"s":"08 green","x":174,"y":397},{"s":"08 green","x":176,"y":403},{"s":"08 green","x":179,"y":390},{"s":"08 green","x":182,"y":393},{"s":"08 green","x":186,"y":397},{"s":"08 green","x":189,"y":390},{"s":"08 green","x":192,"y":377},{"s":"08 green","x":196,"y":380},{"s":"08 green","x":199,"y":373},{"s":"08 green","x":202,"y":363},{"s":"08 green","x":206,"y":350},{"s":"08 green","x":209,"y":340},{"s":"08 green","x":212,"y":337},{"s":"08 green","x":216,"y":330},{"s":"08 green","x":219,"y":323},{"s":"08 green","x":222,"y":317},{"s":"08 green","x":226,"y":313},{"s":"08 green","x":229,"y":317},{"s":"08 green","x":232,"y":333},{"s":"08 green","x":236,"y":353},{"s":"08 green","x":239,"y":360},{"s":"08 green","x":242,"y":357},{"s":"08 green","x":244,"y":347},{"s":"08 green","x":247,"y":333},{"s":"08 green","x":251,"y":317},{"s":"08 green","x":254,"y":303},{"s":"08 green","x":257,"y":293},{"s":"08 green","x":261,"y":290},{"s":"08 green","x":264,"y":277},{"s":"08 green","x":267,"y":270},{"s":"08 green","x":271,"y":260},{"s":"08 green","x":274,"y":253},{"s":"08 green","x":279,"y":243},{"s":"08 green","x":284,"y":240},{"s":"08 green","x":289,"y":243},{"s":"08 green","x":292,"y":273},{"s":"08 green","x":296,"y":277},{"s":"08 green","x":299,"y":255},{"s":"08 green","x":302,"y":243},{"s":"08 green","x":306,"y":233},{"s":"08 green","x":309,"y":230},{"s":"08 green","x":312,"y":223},{"s":"08 green","x":316,"y":217},{"s":"08 green","x":321,"y":213},{"s":"08 green","x":326,"y":217},{"s":"08 green","x":331,"y":210},{"s":"08 green","x":334,"y":200},{"s":"08 green","x":339,"y":210},{"s":"08 green","x":344,"y":207},{"s":"08 green","x":351,"y":210},{"s":"08 green","x":354,"y":200},{"s":"08 green","x":359,"y":197},{"s":"08 green","x":364,"y":193},{"s":"08 green","x":369,"y":187},{"s":"08 green","x":374,"y":180},{"s":"08 green","x":377,"y":183},{"s":"08 green","x":381,"y":193},{"s":"08 green","x":384,"y":200},{"s":"08 green","x":389,"y":197},{"s":"08 green","x":394,"y":203},{"s":"08 green","x":399,"y":200},{"s":"08 green","x":404,"y":210},{"s":"08 green","x":407,"y":220},{"s":"08 green","x":411,"y":227},{"s":"08 green","x":414,"y":223},{"s":"08 green","x":417,"y":217},{"s":"08 green","x":422,"y":207},{"s":"08 green","x":427,"y":197},{"s":"08 green","x":432,"y":192},{"s":"08 green","x":437,"y":190},{"s":"08 green","x":444,"y":193},{"s":"08 green","x":449,"y":190},{"s":"08 green","x":451,"y":177},{"s":"08 green","x":456,"y":183},{"s":"08 green","x":459,"y":187},{"s":"08 green","x":464,"y":180},{"s":"08 green","x":469,"y":177},{"s":"08 green","x":472,"y":183},{"s":"08 green","x":476,"y":193},{"s":"08 green","x":481,"y":197},{"s":"08 green","x":484,"y":193},{"s":"08 green","x":489,"y":197},{"s":"08 green","x":494,"y":203},{"s":"08 green","x":497,"y":200},{"s":"08 green","x":501,"y":190},{"s":"08 green","x":504,"y":187},{"s":"08 green","x":507,"y":190},{"s":"08 green","x":512,"y":187},{"s":"08 green","x":516,"y":183},{"s":"08 green","x":519,"y":190},{"s":"08 green","x":526,"y":167},{"s":"08 green","x":531,"y":153},{"s":"08 green","x":534,"y":143},{"s":"08 green","x":537,"y":150},{"s":"08 green","x":541,"y":163},{"s":"08 green","x":546,"y":183},{"s":"08 green","x":549,"y":200},{"s":"08 green","x":552,"y":210},{"s":"08 green","x":556,"y":223},{"s":"08 green","x":559,"y":240},{"s":"08 green","x":562,"y":247},{"s":"08 green","x":567,"y":250},{"s":"08 green","x":572,"y":247},{"s":"08 green","x":577,"y":237},{"s":"08 green","x":582,"y":227},{"s":"08 green","x":586,"y":220},{"s":"08 green","x":591,"y":207},{"s":"08 green","x":594,"y":197},{"s":"08 green","x":597,"y":200},{"s":"08 green","x":602,"y":210},{"s":"08 green","x":607,"y":213},{"s":"08 green","x":612,"y":210},{"s":"08 green","x":617,"y":200},{"s":"08 green","x":622,"y":207},{"s":"08 green","x":627,"y":223},{"s":"08 green","x":632,"y":233},{"s":"08 green","x":637,"y":240},{"s":"08 green","x":642,"y":233},{"s":"08 green","x":647,"y":220},{"s":"08 green","x":652,"y":207},{"s":"08 green","x":657,"y":200},{"s":"08 green","x":662,"y":203},{"s":"08 green","x":667,"y":197},{"s":"08 green","x":671,"y":177},{"s":"08 green","x":674,"y":190},{"s":"08 green","x":679,"y":223},{"s":"08 green","x":682,"y":243},{"s":"08 green","x":686,"y":230},
{"s":"09 magenta","x":0,"y":170},{"s":"09 magenta","x":2,"y":160},{"s":"09 magenta","x":6,"y":143},{"s":"09 magenta","x":12,"y":130},{"s":"09 magenta","x":16,"y":137},{"s":"09 magenta","x":21,"y":137},{"s":"09 magenta","x":24,"y":153},{"s":"09 magenta","x":27,"y":173},{"s":"09 magenta","x":31,"y":183},{"s":"09 magenta","x":37,"y":187},{"s":"09 magenta","x":47,"y":183},{"s":"09 magenta","x":54,"y":163},{"s":"09 magenta","x":57,"y":147},{"s":"09 magenta","x":61,"y":170},{"s":"09 magenta","x":66,"y":150},{"s":"09 magenta","x":69,"y":167},{"s":"09 magenta","x":74,"y":183},{"s":"09 magenta","x":77,"y":200},{"s":"09 magenta","x":81,"y":210},{"s":"09 magenta","x":84,"y":203},{"s":"09 magenta","x":89,"y":197},{"s":"09 magenta","x":94,"y":183},{"s":"09 magenta","x":101,"y":187},{"s":"09 magenta","x":107,"y":207},{"s":"09 magenta","x":112,"y":250},{"s":"09 magenta","x":115,"y":290},{"s":"09 magenta","x":117,"y":325},{"s":"09 magenta","x":120,"y":315},{"s":"09 magenta","x":124,"y":285},{"s":"09 magenta","x":129,"y":275},{"s":"09 magenta","x":134,"y":290},{"s":"09 magenta","x":138,"y":275},{"s":"09 magenta","x":141,"y":250},{"s":"09 magenta","x":146,"y":223},{"s":"09 magenta","x":151,"y":207},{"s":"09 magenta","x":157,"y":200},{"s":"09 magenta","x":161,"y":210},{"s":"09 magenta","x":166,"y":230},{"s":"09 magenta","x":171,"y":250},{"s":"09 magenta","x":174,"y":273},{"s":"09 magenta","x":177,"y":300},{"s":"09 magenta","x":181,"y":330},{"s":"09 magenta","x":184,"y":367},{"s":"09 magenta","x":187,"y":383},{"s":"09 magenta","x":189,"y":397},{"s":"09 magenta","x":194,"y":407},{"s":"09 magenta","x":199,"y":420},{"s":"09 magenta","x":202,"y":425},{"s":"09 magenta","x":206,"y":423},{"s":"09 magenta","x":211,"y":413},{"s":"09 magenta","x":214,"y":417},{"s":"09 magenta","x":217,"y":415},{"s":"09 magenta","x":221,"y":418},{"s":"09 magenta","x":224,"y":423},{"s":"09 magenta","x":226,"y":443},{"s":"09 magenta","x":227,"y":453},{"s":"09 magenta","x":231,"y":457},{"s":"09 magenta","x":234,"y":458},{"s":"09 magenta","x":237,"y":467},{"s":"09 magenta","x":241,"y":468},{"s":"09 magenta","x":244,"y":470},{"s":"09 magenta","x":246,"y":467},{"s":"09 magenta","x":247,"y":453},{"s":"09 magenta","x":249,"y":443},{"s":"09 magenta","x":252,"y":433},{"s":"09 magenta","x":256,"y":423},{"s":"09 magenta","x":259,"y":407},{"s":"09 magenta","x":262,"y":390},{"s":"09 magenta","x":266,"y":377},{"s":"09 magenta","x":269,"y":372},{"s":"09 magenta","x":272,"y":377},{"s":"09 magenta","x":276,"y":390},{"s":"09 magenta","x":279,"y":387},{"s":"09 magenta","x":282,"y":373},{"s":"09 magenta","x":286,"y":357},{"s":"09 magenta","x":289,"y":347},{"s":"09 magenta","x":292,"y":353},{"s":"09 magenta","x":294,"y":363},{"s":"09 magenta","x":297,"y":357},{"s":"09 magenta","x":301,"y":330},{"s":"09 magenta","x":304,"y":320},{"s":"09 magenta","x":307,"y":317},{"s":"09 magenta","x":311,"y":303},{"s":"09 magenta","x":314,"y":293},{"s":"09 magenta","x":317,"y":282},{"s":"09 magenta","x":321,"y":282},{"s":"09 magenta","x":324,"y":287},{"s":"09 magenta","x":327,"y":300},{"s":"09 magenta","x":331,"y":313},{"s":"09 magenta","x":334,"y":317},{"s":"09 magenta","x":337,"y":313},{"s":"09 magenta","x":341,"y":323},{"s":"09 magenta","x":344,"y":335},{"s":"09 magenta","x":347,"y":338},{"s":"09 magenta","x":351,"y":327},{"s":"09 magenta","x":354,"y":332},{"s":"09 magenta","x":357,"y":327},{"s":"09 magenta","x":361,"y":317},{"s":"09 magenta","x":364,"y":307},{"s":"09 magenta","x":367,"y":300},{"s":"09 magenta","x":371,"y":293},{"s":"09 magenta","x":374,"y":287},{"s":"09 magenta","x":377,"y":273},{"s":"09 magenta","x":381,"y":263},{"s":"09 magenta","x":384,"y":270},{"s":"09 magenta","x":387,"y":280},{"s":"09 magenta","x":391,"y":280},{"s":"09 magenta","x":394,"y":270},{"s":"09 magenta","x":397,"y":253},{"s":"09 magenta","x":399,"y":250},{"s":"09 magenta","x":404,"y":240},{"s":"09 magenta","x":411,"y":233},{"s":"09 magenta","x":417,"y":230},{"s":"09 magenta","x":424,"y":230},{"s":"09 magenta","x":431,"y":233},{"s":"09 magenta","x":437,"y":237},{"s":"09 magenta","x":441,"y":247},{"s":"09 magenta","x":444,"y":252},{"s":"09 magenta","x":447,"y":247},{"s":"09 magenta","x":451,"y":233},{"s":"09 magenta","x":454,"y":223},{"s":"09 magenta","x":457,"y":217},{"s":"09 magenta","x":461,"y":220},{"s":"09 magenta","x":464,"y":213},{"s":"09 magenta","x":469,"y":217},{"s":"09 magenta","x":474,"y":207},{"s":"09 magenta","x":477,"y":203},{"s":"09 magenta","x":484,"y":197},{"s":"09 magenta","x":491,"y":200},{"s":"09 magenta","x":497,"y":193},{"s":"09 magenta","x":502,"y":190},{"s":"09 magenta","x":507,"y":177},{"s":"09 magenta","x":512,"y":157},{"s":"09 magenta","x":516,"y":152},{"s":"09 magenta","x":519,"y":157},{"s":"09 magenta","x":524,"y":163},{"s":"09 magenta","x":529,"y":160},{"s":"09 magenta","x":536,"y":170},{"s":"09 magenta","x":542,"y":173},{"s":"09 magenta","x":547,"y":170},{"s":"09 magenta","x":552,"y":173},{"s":"09 magenta","x":557,"y":183},{"s":"09 magenta","x":562,"y":193},{"s":"09 magenta","x":567,"y":207},{"s":"09 magenta","x":571,"y":230},{"s":"09 magenta","x":574,"y":250},{"s":"09 magenta","x":576,"y":297},{"s":"09 magenta","x":579,"y":317},{"s":"09 magenta","x":582,"y":332},{"s":"09 magenta","x":584,"y":327},{"s":"09 magenta","x":587,"y":303},{"s":"09 magenta","x":589,"y":283},{"s":"09 magenta","x":591,"y":263},{"s":"09 magenta","x":592,"y":250},{"s":"09 magenta","x":596,"y":237},{"s":"09 magenta","x":601,"y":223},{"s":"09 magenta","x":606,"y":220},{"s":"09 magenta","x":612,"y":213},{"s":"09 magenta","x":619,"y":203},{"s":"09 magenta","x":624,"y":197},{"s":"09 magenta","x":629,"y":207},{"s":"09 magenta","x":634,"y":217},{"s":"09 magenta","x":639,"y":220},{"s":"09 magenta","x":646,"y":213},{"s":"09 magenta","x":652,"y":230},{"s":"09 magenta","x":659,"y":233},{"s":"09 magenta","x":666,"y":243},{"s":"09 magenta","x":671,"y":240},{"s":"09 magenta","x":674,"y":220},{"s":"09 magenta","x":679,"y":197},{"s":"09 magenta","x":682,"y":183},{"s":"09 magenta","x":686,"y":173},
{"s":"10 blue","x":0,"y":253},{"s":"10 blue","x":4,"y":248},{"s":"10 blue","x":9,"y":240},{"s":"10 blue","x":14,"y":238},{"s":"10 blue","x":19,"y":225},{"s":"10 blue","x":24,"y":205},{"s":"10 blue","x":27,"y":193},{"s":"10 blue","x":30,"y":175},{"s":"10 blue","x":32,"y":167},{"s":"10 blue","x":37,"y":177},{"s":"10 blue","x":39,"y":220},{"s":"10 blue","x":41,"y":290},{"s":"10 blue","x":42,"y":325},{"s":"10 blue","x":44,"y":320},{"s":"10 blue","x":47,"y":283},{"s":"10 blue","x":52,"y":270},{"s":"10 blue","x":56,"y":277},{"s":"10 blue","x":61,"y":290},{"s":"10 blue","x":66,"y":297},{"s":"10 blue","x":69,"y":283},{"s":"10 blue","x":74,"y":290},{"s":"10 blue","x":79,"y":303},{"s":"10 blue","x":82,"y":320},{"s":"10 blue","x":84,"y":310},{"s":"10 blue","x":87,"y":293},{"s":"10 blue","x":94,"y":300},{"s":"10 blue","x":101,"y":297},{"s":"10 blue","x":107,"y":290},{"s":"10 blue","x":112,"y":280},{"s":"10 blue","x":116,"y":277},{"s":"10 blue","x":119,"y":283},{"s":"10 blue","x":124,"y":273},{"s":"10 blue","x":131,"y":277},{"s":"10 blue","x":134,"y":263},{"s":"10 blue","x":141,"y":257},{"s":"10 blue","x":146,"y":260},{"s":"10 blue","x":151,"y":277},{"s":"10 blue","x":154,"y":290},{"s":"10 blue","x":157,"y":277},{"s":"10 blue","x":161,"y":260},{"s":"10 blue","x":166,"y":263},{"s":"10 blue","x":169,"y":273},{"s":"10 blue","x":172,"y":257},{"s":"10 blue","x":179,"y":273},{"s":"10 blue","x":182,"y":290},{"s":"10 blue","x":184,"y":317},{"s":"10 blue","x":187,"y":330},{"s":"10 blue","x":191,"y":300},{"s":"10 blue","x":192,"y":293},{"s":"10 blue","x":194,"y":347},{"s":"10 blue","x":197,"y":373},{"s":"10 blue","x":202,"y":407},{"s":"10 blue","x":206,"y":440},{"s":"10 blue","x":209,"y":467},{"s":"10 blue","x":212,"y":472},{"s":"10 blue","x":214,"y":463},{"s":"10 blue","x":217,"y":460},{"s":"10 blue","x":219,"y":457},{"s":"10 blue","x":221,"y":467},{"s":"10 blue","x":224,"y":453},{"s":"10 blue","x":227,"y":443},{"s":"10 blue","x":229,"y":437},{"s":"10 blue","x":232,"y":432},{"s":"10 blue","x":236,"y":432},{"s":"10 blue","x":239,"y":430},{"s":"10 blue","x":242,"y":432},{"s":"10 blue","x":246,"y":447},{"s":"10 blue","x":249,"y":450},{"s":"10 blue","x":252,"y":443},{"s":"10 blue","x":256,"y":437},{"s":"10 blue","x":259,"y":433},{"s":"10 blue","x":264,"y":428},{"s":"10 blue","x":267,"y":423},{"s":"10 blue","x":271,"y":418},{"s":"10 blue","x":274,"y":415},{"s":"10 blue","x":277,"y":410},{"s":"10 blue","x":281,"y":400},{"s":"10 blue","x":284,"y":390},{"s":"10 blue","x":287,"y":387},{"s":"10 blue","x":291,"y":383},{"s":"10 blue","x":294,"y":380},{"s":"10 blue","x":297,"y":370},{"s":"10 blue","x":301,"y":350},{"s":"10 blue","x":304,"y":340},{"s":"10 blue","x":307,"y":330},{"s":"10 blue","x":311,"y":327},{"s":"10 blue","x":314,"y":330},{"s":"10 blue","x":319,"y":343},{"s":"10 blue","x":322,"y":343},{"s":"10 blue","x":326,"y":330},{"s":"10 blue","x":331,"y":317},{"s":"10 blue","x":336,"y":310},{"s":"10 blue","x":339,"y":307},{"s":"10 blue","x":342,"y":297},{"s":"10 blue","x":347,"y":290},{"s":"10 blue","x":354,"y":280},{"s":"10 blue","x":361,"y":267},{"s":"10 blue","x":367,"y":253},{"s":"10 blue","x":374,"y":247},{"s":"10 blue","x":381,"y":243},{"s":"10 blue","x":384,"y":237},{"s":"10 blue","x":391,"y":220},{"s":"10 blue","x":394,"y":222},{"s":"10 blue","x":401,"y":227},{"s":"10 blue","x":406,"y":225},{"s":"10 blue","x":411,"y":217},{"s":"10 blue","x":417,"y":217},{"s":"10 blue","x":424,"y":222},{"s":"10 blue","x":431,"y":222},{"s":"10 blue","x":437,"y":217},{"s":"10 blue","x":441,"y":208},{"s":"10 blue","x":444,"y":197},{"s":"10 blue","x":449,"y":200},{"s":"10 blue","x":452,"y":207},{"s":"10 blue","x":457,"y":207},{"s":"10 blue","x":462,"y":213},{"s":"10 blue","x":467,"y":213},{"s":"10 blue","x":471,"y":203},{"s":"10 blue","x":474,"y":195},{"s":"10 blue","x":481,"y":193},{"s":"10 blue","x":487,"y":192},{"s":"10 blue","x":494,"y":187},{"s":"10 blue","x":499,"y":170},{"s":"10 blue","x":502,"y":177},{"s":"10 blue","x":507,"y":197},{"s":"10 blue","x":512,"y":203},{"s":"10 blue","x":516,"y":217},{"s":"10 blue","x":519,"y":210},{"s":"10 blue","x":522,"y":200},{"s":"10 blue","x":526,"y":183},{"s":"10 blue","x":531,"y":163},{"s":"10 blue","x":534,"y":150},{"s":"10 blue","x":537,"y":157},{"s":"10 blue","x":542,"y":170},{"s":"10 blue","x":547,"y":183},{"s":"10 blue","x":552,"y":197},{"s":"10 blue","x":557,"y":200},{"s":"10 blue","x":561,"y":210},{"s":"10 blue","x":564,"y":230},{"s":"10 blue","x":567,"y":260},{"s":"10 blue","x":571,"y":300},{"s":"10 blue","x":574,"y":322},{"s":"10 blue","x":577,"y":317},{"s":"10 blue","x":581,"y":290},{"s":"10 blue","x":584,"y":270},{"s":"10 blue","x":587,"y":260},{"s":"10 blue","x":591,"y":257},{"s":"10 blue","x":592,"y":240},{"s":"10 blue","x":596,"y":230},{"s":"10 blue","x":599,"y":220},{"s":"10 blue","x":606,"y":220},{"s":"10 blue","x":611,"y":217},{"s":"10 blue","x":614,"y":230},{"s":"10 blue","x":617,"y":233},{"s":"10 blue","x":621,"y":267},{"s":"10 blue","x":624,"y":263},{"s":"10 blue","x":626,"y":257},{"s":"10 blue","x":629,"y":230},{"s":"10 blue","x":634,"y":217},{"s":"10 blue","x":637,"y":203},{"s":"10 blue","x":641,"y":197},{"s":"10 blue","x":644,"y":190},{"s":"10 blue","x":647,"y":203},{"s":"10 blue","x":651,"y":220},{"s":"10 blue","x":654,"y":233},{"s":"10 blue","x":659,"y":237},{"s":"10 blue","x":662,"y":230},{"s":"10 blue","x":666,"y":207},{"s":"10 blue","x":669,"y":217},{"s":"10 blue","x":672,"y":227},{"s":"10 blue","x":677,"y":237},{"s":"10 blue","x":682,"y":243},{"s":"10 blue","x":686,"y":250},
{"s":"11 red","x":0,"y":220},{"s":"11 red","x":4,"y":213},{"s":"11 red","x":9,"y":212},{"s":"11 red","x":14,"y":207},{"s":"11 red","x":17,"y":210},{"s":"11 red","x":22,"y":223},{"s":"11 red","x":26,"y":232},{"s":"11 red","x":29,"y":222},{"s":"11 red","x":32,"y":223},{"s":"11 red","x":36,"y":218},{"s":"11 red","x":39,"y":210},{"s":"11 red","x":42,"y":200},{"s":"11 red","x":46,"y":195},{"s":"11 red","x":49,"y":198},{"s":"11 red","x":52,"y":203},{"s":"11 red","x":56,"y":213},{"s":"11 red","x":61,"y":232},{"s":"11 red","x":64,"y":250},{"s":"11 red","x":67,"y":238},{"s":"11 red","x":72,"y":240},{"s":"11 red","x":76,"y":232},{"s":"11 red","x":79,"y":223},{"s":"11 red","x":82,"y":225},{"s":"11 red","x":86,"y":213},{"s":"11 red","x":89,"y":228},{"s":"11 red","x":92,"y":250},{"s":"11 red","x":96,"y":263},{"s":"11 red","x":99,"y":283},{"s":"11 red","x":102,"y":275},{"s":"11 red","x":104,"y":260},{"s":"11 red","x":107,"y":248},{"s":"11 red","x":111,"y":242},{"s":"11 red","x":116,"y":240},{"s":"11 red","x":121,"y":244},{"s":"11 red","x":167,"y":295},{"s":"11 red","x":171,"y":287},{"s":"11 red","x":176,"y":288},{"s":"11 red","x":179,"y":292},{"s":"11 red","x":207,"y":272},{"s":"11 red","x":214,"y":262},{"s":"11 red","x":219,"y":263},
{"s":"12 yellow","x":0,"y":107.8},{"s":"12 yellow","x":689,"y":107.8}
],
"markers": [
{"x":0,"y":107.8},{"x":57,"y":107.8},{"x":112,"y":107.8},{"x":167,"y":107.8},{"x":224,"y":107.8},{"x":283,"y":107.8},{"x":339,"y":107.8},{"x":397,"y":107.8},{"x":456,"y":107.8},{"x":512,"y":107.8},{"x":568,"y":107.8},{"x":628,"y":107.8},{"x":683,"y":107.8}
]
},
"layer": [
{
"data": {"name": "lines"},
"mark": {"type": "line", "clip": true, "strokeJoin": "round"},
"encoding": {
"x": {"field": "x", "type": "quantitative", "scale": {"domain": [0, 689], "nice": false, "zero": false},
"axis": {"title": null, "labels": false, "grid": false, "domainColor": "black", "domainWidth": 1.5, "tickColor": "black", "tickSize": 5, "tickWidth": 1, "tickCount": 1000,
"values": [0,6.89,13.78,20.67,27.56,34.45,41.34,48.23,55.12,62.01,68.9,75.79,82.68,89.57,96.46,103.35,110.24,117.13,124.02,130.91,137.8,144.69,151.58,158.47,165.36,172.25,179.14,186.03,192.92,199.81,206.7,213.59,220.48,227.37,234.26,241.15,248.04,254.93,261.82,268.71,275.6,282.49,289.38,296.27,303.16,310.05,316.94,323.83,330.72,337.61,344.5,351.39,358.28,365.17,372.06,378.95,385.84,392.73,399.62,406.51,413.4,420.29,427.18,434.07,440.96,447.85,454.74,461.63,468.52,475.41,482.3,489.19,496.08,502.97,509.86,516.75,523.64,530.53,537.42,544.31,551.2,558.09,564.98,571.87,578.76,585.65,592.54,599.43,606.32,613.21,620.1,626.99,633.88,640.77,647.66,654.55,661.44,668.33,675.22,682.11,689]}},
"y": {"field": "y", "type": "quantitative", "scale": {"domain": [0, 485.1], "nice": false, "zero": false},
"axis": {"title": null, "labels": false, "domainColor": "black", "domainWidth": 1.5, "tickColor": "black", "tickSize": -5, "tickWidth": 1, "tickCount": 1000, "grid": true, "gridColor": "#c8c8c8", "gridWidth": 1,
"gridOpacity": {"condition": {"test": "round(datum.value / 10.78) % 5 === 0", "value": 1}, "value": 0},
"values": [0,10.78,21.56,32.34,43.12,53.9,64.68,75.46,86.24,97.02,107.8,118.58,129.36,140.14,150.92,161.7,172.48,183.26,194.04,204.82,215.6,226.38,237.16,247.94,258.72,269.5,280.28,291.06,301.84,312.62,323.4,334.18,344.96,355.74,366.52,377.3,388.08,398.86,409.64,420.42,431.2,441.98,452.76,463.54,474.32,485.1]}},
"color": {"field": "s", "type": "nominal", "legend": null,
"scale": {"domain": ["01 grey","02 grey","03 grey","04 lightblue","05 pink","06 orange","07 cyan","08 green","09 magenta","10 blue","11 red","12 yellow"],
"range": ["#c0c0c0","#c0c0c0","#c8c8c8","#add8e6","#ffc0cb","#ffa500","#00f0f0","#22dd22","#ff00ff","#1010f0","#ff0000","#ffff00"]}},
"strokeWidth": {"field": "s", "type": "nominal", "legend": null,
"scale": {"domain": ["01 grey","02 grey","03 grey","04 lightblue","05 pink","06 orange","07 cyan","08 green","09 magenta","10 blue","11 red","12 yellow"],
"range": [1.4,1.4,1.2,1.5,4.5,1.5,1.5,1.6,1.5,1.6,3,2]}}
}
},
{
"data": {"name": "markers"},
"mark": {"type": "point", "shape": "circle", "filled": true, "size": 60, "fill": "#ff0000", "stroke": "black", "strokeWidth": 1, "opacity": 1, "clip": false},
"encoding": {
"x": {"field": "x", "type": "quantitative", "axis": {"title": null}},
"y": {"field": "y", "type": "quantitative", "axis": {"title": null}}
}
}
]
}
